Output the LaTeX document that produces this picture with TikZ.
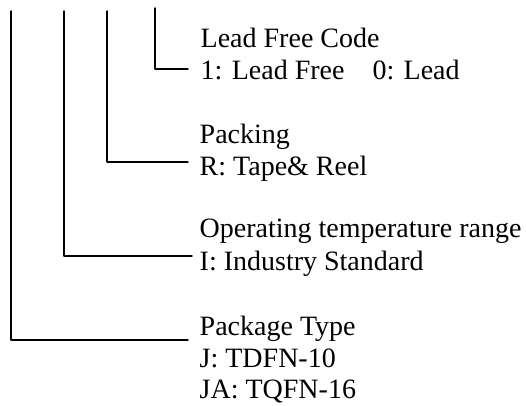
\documentclass[tikz,border=0pt]{standalone}
\usepackage{fontspec}
\setmainfont{Liberation Serif}
\begin{document}
\begin{tikzpicture}[x=1pt,y=-1pt,line join = round, line cap = round,line width=1.4pt]
		\tikzset{lbl/.style={anchor=base west,inner sep=0pt,font=\fontsize{28}{32}\selectfont}}
		\useasboundingbox (0,0) rectangle (526,405);
		%Order code fields
		\node[lbl] (LF_1) at (200,47) {Lead Free Code};
		\node[lbl] (LF_2) at (200,79) {1: Lead Free\quad 0: Lead};
		\node[lbl] (PK_1) at (199,143) {Packing};
		\node[lbl] (PK_2) at (199,175) {R: Tape\& Reel};
		\node[lbl] (OT_1) at (199,237) {Operating temperature range};
		\node[lbl] (OT_2) at (199,270) {I: Industry Standard};
		\node[lbl] (PT_1) at (199,335) {Package Type};
		\node[lbl] (PT_2) at (199,367) {J: TDFN-10};
		\node[lbl] (PT_3) at (199,398) {JA: TQFN-16};
		\foreach \p/\x/\y in {T_1/11/11,E_1/188/340,T_2/64/11,E_2/192/256,T_3/107/11,E_3/188/162,T_4/155/8,E_4/188/69}
		\coordinate (\p) at (\x,\y);
		\foreach \i in {1,...,4}
		\draw (T_\i) |- (E_\i);
	\end{tikzpicture}
\end{document}
